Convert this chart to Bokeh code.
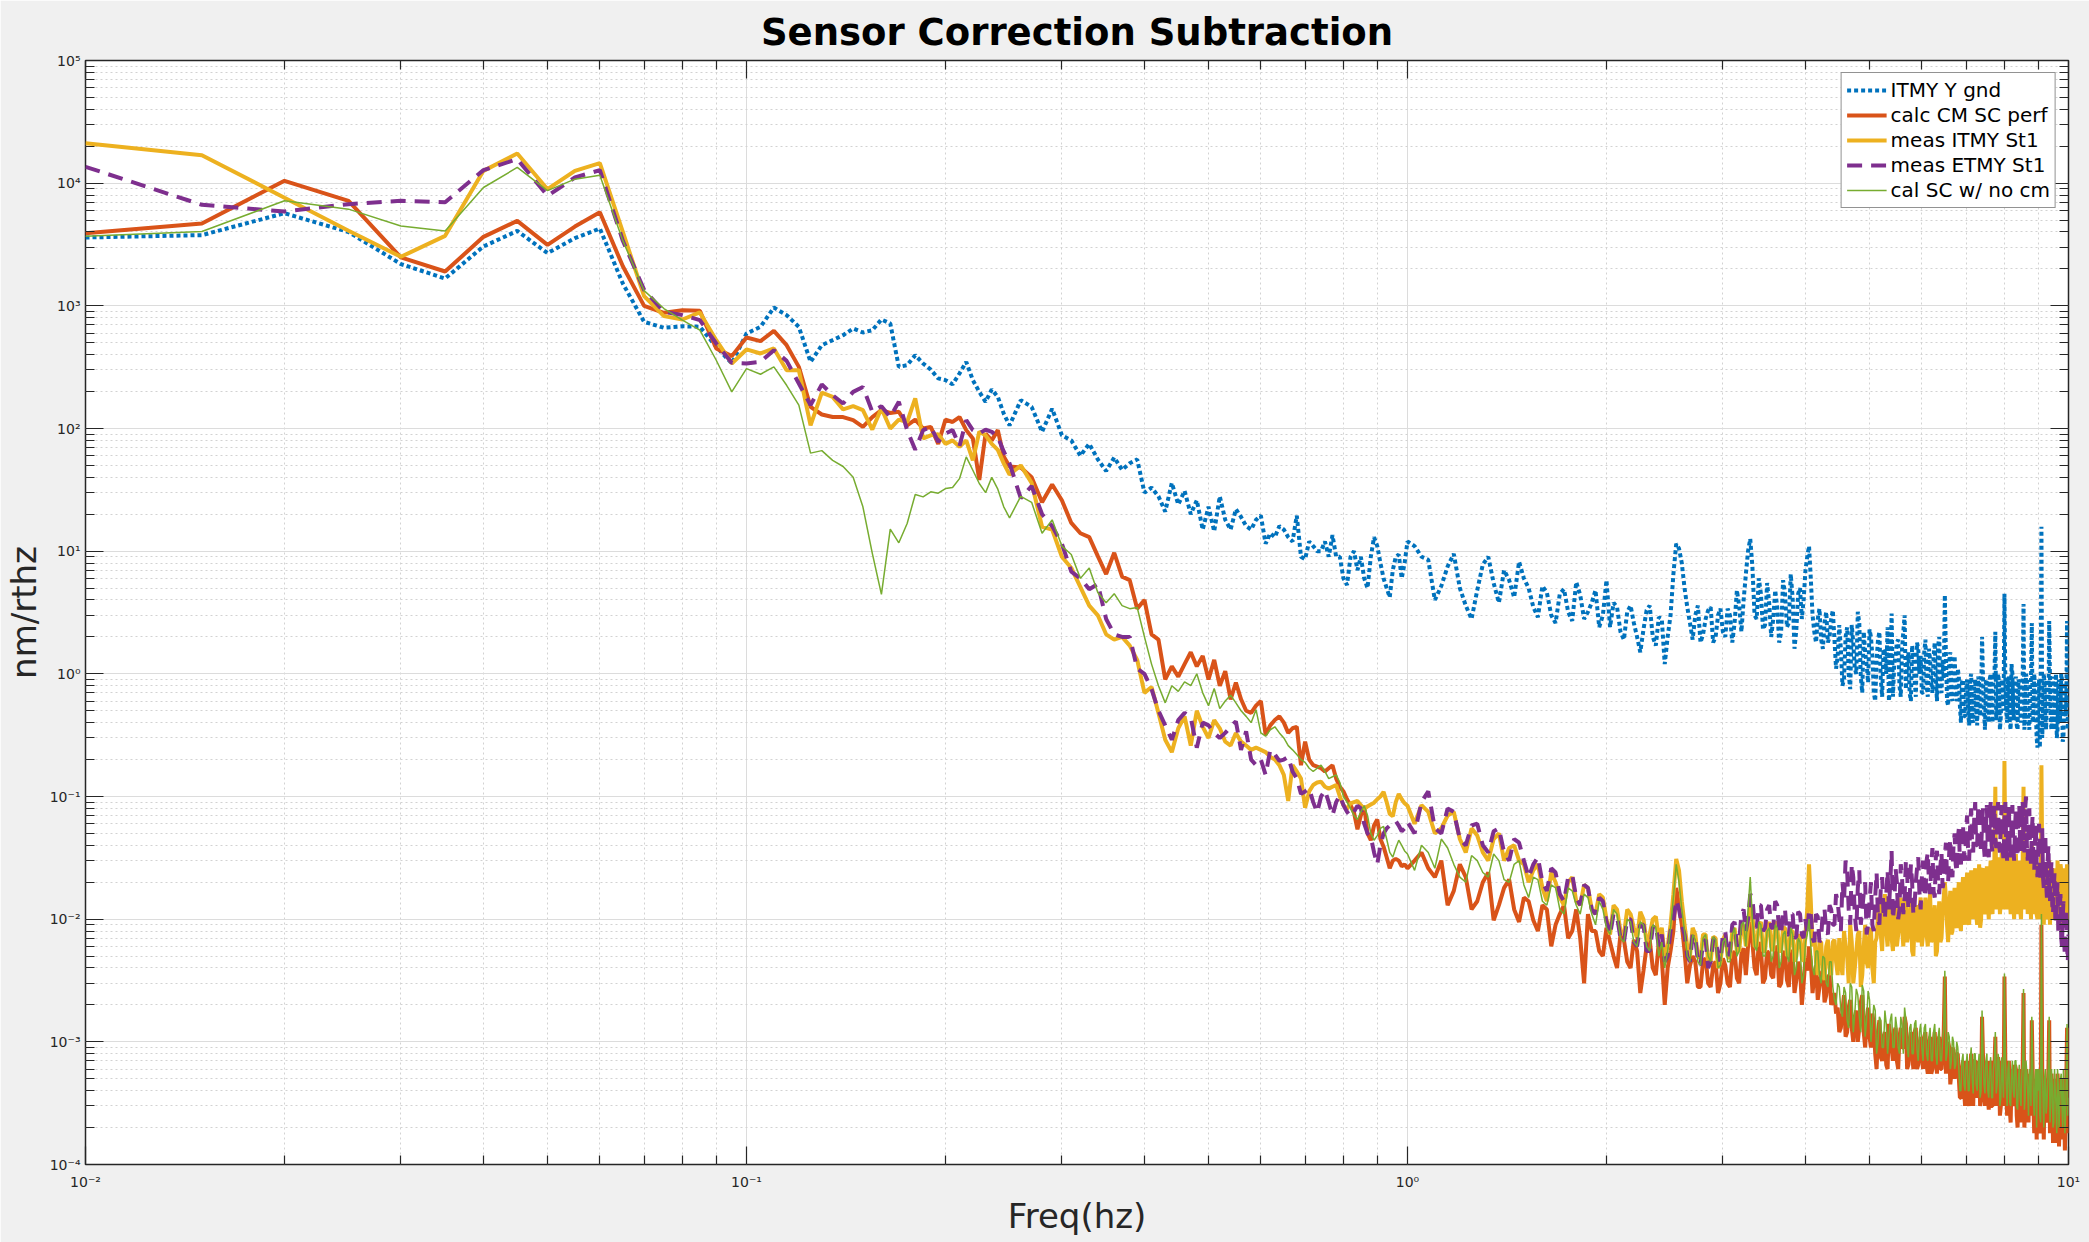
import numpy as np
from bokeh.plotting import figure
from bokeh.models import FixedTicker, LogAxis, CustomJSTickFormatter, Range1d
from bokeh.embed import file_html
from bokeh.resources import INLINE

# frequency bins (Hz): 0.005 Hz steps up to 0.25, then coarser read-off bins
FREQ = np.concatenate([np.arange(2, 51) * 0.005,
                       np.arange(26, 101) * 0.01,
                       np.arange(21, 201) * 0.05])
# extra bins in the dense 1-10 Hz band (1.025, 1.075, ... 9.975)
FREQ_MID = np.arange(41, 400, 2) * 0.025

X_DECADES = [-2, -1, 0, 1]
Y_DECADES = [-4, -3, -2, -1, 0, 1, 2, 3, 4, 5]

# nm/rthz
ITMY_GND = [
    3606, 3770, 5690, 4000, 2190, 1670, 3050, 4080, 2690, 3560, 4270, 1520,
    740, 662, 682, 675, 464, 339, 595, 674, 968, 840, 674, 349,
    478, 525, 576, 653, 606, 633, 774, 718, 318, 328, 396, 339,
    302, 256, 248, 229, 281, 349, 248, 199, 165, 208, 181, 132, 106,
    # 0.26 .. 1.00
    170, 150, 94, 145, 88, 80, 60, 75, 56, 45,
    58, 46, 52, 56, 30, 33, 28, 21, 36, 24,
    31, 20, 26, 15, 23, 14.5, 28, 18, 15, 22,
    19, 16, 15, 18, 19.5, 11.5, 14, 13, 16, 15,
    13, 12, 19.5, 9, 8.6, 12, 11, 10, 10, 12,
    9, 13.5, 9, 9, 6, 5.3, 9, 10, 7, 9,
    6, 5, 9, 13, 11, 8, 6, 5, 4.2, 7,
    9, 9.4, 6, 8, 12,
    # 1.05 .. 10.0
    9.0, 4.0, 7.5, 5.0, 2.8, 7.8, 5.5, 7.0, 4.2, 6.0,
    3.5, 5.2, 3.0, 4.5, 3.2, 5.6, 2.8, 3.8, 2.4, 5.8,
    3.8, 2.2, 3.2, 2.6, 1.5, 3.3, 2.0, 2.9, 1.2, 3.0,
    11.5, 8.0, 3.5, 1.9, 3.6, 2.1, 3.3, 1.8, 3.0, 2.2,
    3.4, 1.8, 4.8, 2.2, 6.5, 12.6, 3.0, 6.0, 2.3, 5.5,
    2.0, 4.8, 1.8, 5.8, 2.4, 6.5, 1.6, 4.5, 2.8, 7.0,
    11.0, 3.0, 1.8, 3.4, 1.6, 3.2, 2.0, 3.3, 1.1, 2.5,
    0.8, 2.0, 1.0, 2.5, 1.1, 3.2, 0.95, 2.2, 1.2, 2.3,
    1.4, 0.6, 1.9, 0.9, 1.6, 1.0, 0.6, 3.1, 1.2, 1.8,
    0.8, 1.6, 3.0, 1.2, 0.7, 1.7, 0.9, 1.8, 1.0, 0.7,
    1.5, 0.8, 1.6, 0.85, 1.4, 0.9, 1.7, 0.75, 1.3, 4.4,
    0.6, 1.3, 0.7, 1.2, 0.8, 1.1, 0.55, 0.85, 0.45, 0.75,
    0.5, 0.9, 0.42, 0.8, 0.5, 0.95, 0.45, 2.0, 0.5, 0.85,
    0.45, 0.9, 0.55, 1.0, 2.2, 0.5, 0.85, 0.45, 0.8, 4.5,
    0.5, 0.85, 0.4, 1.2, 0.5, 0.8, 0.38, 0.9, 0.5, 0.8,
    3.7, 0.5, 0.9, 0.4, 0.8, 2.6, 0.45, 0.75, 0.3, 0.6,
    0.25, 15.8, 0.5, 0.8, 0.35, 0.7, 2.7, 0.4, 0.75, 0.35,
    0.7, 0.3, 0.8, 0.4, 1.0, 0.28, 0.65, 0.45, 2.7, 0.6,
]
ITMY_GND_MID = [
    11.0, 8.5, 5.2, 9.5, 3.6, 4.8, 9.0, 3.8, 5.8, 8.2,
    5.0, 2.9, 4.6, 2.6, 4.9, 2.7, 4.4, 3.2, 4.8, 3.0,
    2.4, 3.5, 1.9, 3.6, 2.0, 2.3, 3.6, 1.7, 2.8, 2.0,
    6.5, 10.5, 5.0, 2.6, 3.0, 1.8, 2.8, 3.5, 2.0, 3.4,
    2.0, 3.0, 2.6, 3.6, 4.0, 10.0, 7.5, 2.8, 4.5, 2.5,
    3.8, 2.8, 3.5, 2.2, 4.5, 2.6, 4.2, 2.3, 5.0, 4.0,
    9.0, 6.0, 2.2, 2.8, 1.9, 2.6, 1.8, 2.8, 1.9, 1.4,
    1.6, 0.9, 2.4, 0.75, 1.8, 1.0, 2.6, 0.7, 1.5, 0.85,
    2.0, 0.7, 1.3, 2.2, 0.65, 1.5, 2.4, 0.8, 0.65, 1.4,
    1.9, 0.65, 2.2, 0.75, 1.5, 0.6, 1.3, 0.65, 1.6, 1.4,
    0.7, 1.9, 0.65, 1.3, 0.7, 1.8, 0.6, 2.0, 0.7, 0.9,
    1.4, 0.55, 1.5, 0.6, 1.4, 0.6, 0.95, 0.4, 0.9, 0.45,
    0.9, 0.38, 1.0, 0.4, 0.9, 0.38, 0.85, 0.6, 0.9, 0.35,
    0.9, 0.4, 1.0, 0.4, 0.9, 0.42, 1.0, 0.35, 0.9, 0.5,
    0.9, 0.4, 0.95, 0.35, 1.0, 0.42, 0.95, 0.35, 0.85, 0.4,
    0.9, 0.35, 1.0, 0.5, 0.35, 0.9, 0.4, 1.0, 0.5, 0.25,
    0.9, 0.6, 0.3, 1.0, 0.45, 0.9, 0.5, 0.9, 0.35, 0.95,
    0.45, 1.0, 0.35, 0.9, 0.5, 0.9, 0.3, 0.85, 0.6, 0.35,
]

CALC_CM_SC = [
    3900, 4690, 10450, 7180, 2480, 1905, 3650, 4930, 3140, 4430, 5800, 2100,
    1000, 877, 922, 910, 449, 389, 552, 515, 625, 478, 318, 150,
    130, 124, 124, 117, 103, 124, 141, 134, 137, 106, 118, 100,
    103, 75, 118, 113, 124, 97, 83, 38, 91, 80, 97, 59, 49,
    48, 40, 25, 35, 26, 17, 14, 13, 9.1, 6.5,
    9.7, 6.2, 5.8, 3.4, 4.0, 2.1, 1.9, 0.9, 1.15, 0.95,
    1.2, 1.5, 1.15, 1.4, 0.9, 1.3, 0.8, 1.05, 0.62, 0.85,
    0.62, 0.5, 0.48, 0.55, 0.6, 0.32, 0.38, 0.42, 0.45, 0.4,
    0.33, 0.36, 0.37, 0.18, 0.28, 0.2, 0.18, 0.175, 0.17, 0.16,
    0.17, 0.18, 0.14, 0.12, 0.11, 0.095, 0.085, 0.074, 0.054, 0.07,
    0.084, 0.05, 0.044, 0.058, 0.065, 0.045, 0.039, 0.032, 0.026, 0.03,
    0.031, 0.03, 0.027, 0.028, 0.026,
    0.035, 0.022, 0.013, 0.028, 0.012, 0.02, 0.0098, 0.018, 0.012, 0.015,
    0.0098, 0.013, 0.006, 0.011, 0.007, 0.012, 0.003, 0.008, 0.0055, 0.0085,
    0.005, 0.0075, 0.0045, 0.0068, 0.0025, 0.006, 0.004, 0.0065, 0.002, 0.0055,
    0.018, 0.009, 0.003, 0.005, 0.0028, 0.0045, 0.003, 0.0042, 0.0025, 0.0048,
    0.003, 0.005, 0.0033, 0.0052, 0.0035, 0.0095, 0.004, 0.0065, 0.003, 0.0055,
    0.0035, 0.006, 0.0028, 0.005, 0.0032, 0.0056, 0.0025, 0.0045, 0.002, 0.0048,
    0.006, 0.0025, 0.0042, 0.0028, 0.0038, 0.0024, 0.0035, 0.0022, 0.0017, 0.0012,
    0.0018, 0.0011, 0.0019, 0.0013, 0.0016, 0.001, 0.0021, 0.0012, 0.0015, 0.0011,
    0.0017, 0.0008, 0.0012, 0.00075, 0.0011, 0.00065, 0.0014, 0.0009, 0.0012, 0.0007,
    0.0011, 0.0009, 0.0016, 0.0006, 0.001, 0.0008, 0.0012, 0.0006, 0.0009, 0.00075,
    0.0011, 0.00065, 0.0009, 0.00055, 0.00095, 0.0007, 0.001, 0.0006, 0.0008, 0.0034,
    0.0007, 0.0009, 0.00055, 0.00085, 0.0006, 0.0008, 0.00035, 0.0006, 0.0004, 0.00055,
    0.00035, 0.0006, 0.00045, 0.0007, 0.0004, 0.00055, 0.0003, 0.0016, 0.0004, 0.0006,
    0.00035, 0.0005, 0.0003, 0.00055, 0.0011, 0.0004, 0.0006, 0.0003, 0.00045, 0.0034,
    0.0004, 0.00055, 0.00028, 0.0005, 0.00035, 0.00065, 0.00025, 0.00045, 0.0003, 0.0005,
    0.0025, 0.0003, 0.0005, 0.00022, 0.0004, 0.0015, 0.0003, 0.00045, 0.00016, 0.00035,
    0.0002, 0.009, 0.0003, 0.00045, 0.00022, 0.0004, 0.0015, 0.00025, 0.0004, 0.00018,
    0.00035, 0.00015, 0.0004, 0.00025, 0.0005, 0.00016, 0.0003, 0.0002, 0.0013, 0.0003,
]
CALC_CM_SC_MID = [
    0.03, 0.026, 0.03, 0.017, 0.022, 0.014, 0.024, 0.013, 0.021, 0.0095,
    0.014, 0.008, 0.012, 0.009, 0.013, 0.008, 0.007, 0.011, 0.008, 0.005,
    0.0065, 0.004, 0.0068, 0.004, 0.0055, 0.0038, 0.0068, 0.0035, 0.0048, 0.004,
    0.008, 0.013, 0.0055, 0.0042, 0.0045, 0.0028, 0.0048, 0.0028, 0.0045, 0.003,
    0.0042, 0.0028, 0.0055, 0.003, 0.0058, 0.006, 0.0065, 0.0035, 0.0058, 0.0033,
    0.0052, 0.0033, 0.0058, 0.003, 0.0055, 0.0028, 0.0052, 0.0032, 0.004, 0.003,
    0.0038, 0.0045, 0.0035, 0.0022, 0.0036, 0.0021, 0.0034, 0.002, 0.0025, 0.0019,
    0.0013, 0.0024, 0.0012, 0.0022, 0.001, 0.0018, 0.0013, 0.0024, 0.0009, 0.0019,
    0.0009, 0.0014, 0.0006, 0.0015, 0.0007, 0.0012, 0.0006, 0.0011, 0.0007, 0.0013,
    0.0006, 0.0013, 0.0009, 0.0014, 0.00065, 0.0012, 0.0006, 0.0013, 0.00065, 0.0011,
    0.0006, 0.0012, 0.00055, 0.0011, 0.0006, 0.0012, 0.00055, 0.0011, 0.0006, 0.0012,
    0.00055, 0.001, 0.00045, 0.0009, 0.0005, 0.0008, 0.0005, 0.00035, 0.0007, 0.0003,
    0.0007, 0.0003, 0.0008, 0.0003, 0.0007, 0.00035, 0.0007, 0.00035, 0.00075, 0.0003,
    0.0007, 0.00028, 0.0007, 0.0003, 0.0006, 0.0003, 0.00075, 0.00025, 0.0007, 0.0003,
    0.0007, 0.00025, 0.0007, 0.00022, 0.0006, 0.0003, 0.0006, 0.0002, 0.0006, 0.00022,
    0.0006, 0.0002, 0.0006, 0.00035, 0.00055, 0.00025, 0.0006, 0.00018, 0.0005, 0.0006,
    0.0005, 0.00018, 0.0006, 0.00016, 0.0005, 0.00025, 0.0006, 0.00018, 0.00055, 0.00015,
    0.0005, 0.00025, 0.00055, 0.00014, 0.0004, 0.00025, 0.0005, 0.00013, 0.0005, 0.00018,
]

MEAS_ITMY = [
    21200, 16900, 7600, 4100, 2510, 3720, 12600, 17450, 8930, 12600, 14550, 4000,
    1200, 824, 774, 883, 525, 339, 441, 409, 449, 299, 299, 106,
    196, 181, 143, 152, 141, 98, 146, 100, 118, 113, 176, 83,
    88, 90, 75, 80, 71, 80, 55, 94, 88, 75, 67, 52, 42,
    50, 36, 15.8, 15, 9, 7.3, 5.1, 3.6, 3.0, 2.1,
    1.9, 2.0, 1.7, 1.3, 0.7, 0.78, 0.48, 0.29, 0.23, 0.36,
    0.45, 0.26, 0.5, 0.37, 0.3, 0.42, 0.36, 0.28, 0.26, 0.33,
    0.28, 0.26, 0.24, 0.25, 0.24, 0.23, 0.21, 0.2, 0.18, 0.15,
    0.092, 0.18, 0.16, 0.14, 0.081, 0.11, 0.124, 0.13, 0.132, 0.12,
    0.116, 0.12, 0.124, 0.1, 0.085, 0.079, 0.088, 0.09, 0.092, 0.085,
    0.079, 0.083, 0.086, 0.089, 0.095, 0.1, 0.109, 0.09, 0.072, 0.069,
    0.09, 0.105, 0.095, 0.088, 0.084,
    0.085, 0.05, 0.07, 0.045, 0.055, 0.035, 0.045, 0.03, 0.04, 0.028,
    0.025, 0.018, 0.024, 0.015, 0.02, 0.014, 0.019, 0.012, 0.016, 0.01,
    0.013, 0.008, 0.012, 0.0085, 0.0115, 0.0065, 0.01, 0.007, 0.005, 0.009,
    0.031, 0.014, 0.006, 0.0085, 0.005, 0.0075, 0.0045, 0.0072, 0.004, 0.0068,
    0.005, 0.008, 0.0055, 0.0085, 0.006, 0.013, 0.006, 0.009, 0.0055, 0.0085,
    0.006, 0.0095, 0.0055, 0.0085, 0.005, 0.008, 0.0045, 0.007, 0.005, 0.0075,
    0.028, 0.006, 0.0045, 0.0065, 0.0035, 0.006, 0.004, 0.0065, 0.0045, 0.007,
    0.0035, 0.006, 0.003, 0.0065, 0.004, 0.0075, 0.0028, 0.006, 0.0045, 0.007,
    0.004, 0.0065, 0.011, 0.0075, 0.013, 0.008, 0.012, 0.007, 0.0105, 0.006,
    0.011, 0.0085, 0.013, 0.0065, 0.01, 0.0055, 0.0095, 0.0075, 0.012, 0.006,
    0.011, 0.0075, 0.0125, 0.0065, 0.01, 0.005, 0.0095, 0.0065, 0.011, 0.02,
    0.009, 0.012, 0.0075, 0.013, 0.009, 0.015, 0.0095, 0.016, 0.011, 0.018,
    0.01, 0.017, 0.0125, 0.02, 0.011, 0.018, 0.0085, 0.025, 0.012, 0.019,
    0.014, 0.022, 0.012, 0.03, 0.12, 0.018, 0.025, 0.014, 0.028, 0.195,
    0.02, 0.03, 0.016, 0.026, 0.013, 0.028, 0.017, 0.024, 0.012, 0.022,
    0.12, 0.018, 0.028, 0.013, 0.022, 0.04, 0.015, 0.026, 0.011, 0.02,
    0.014, 0.18, 0.016, 0.024, 0.011, 0.02, 0.03, 0.013, 0.022, 0.01,
    0.019, 0.012, 0.022, 0.014, 0.025, 0.011, 0.02, 0.013, 0.028, 0.016,
]
MEAS_ITMY_MID = [
    0.06, 0.075, 0.055, 0.075, 0.035, 0.048, 0.03, 0.05, 0.038, 0.03,
    0.02, 0.028, 0.014, 0.02, 0.013, 0.022, 0.013, 0.018, 0.011, 0.015,
    0.0075, 0.012, 0.0075, 0.011, 0.007, 0.01, 0.0075, 0.0105, 0.0085, 0.006,
    0.016, 0.025, 0.009, 0.005, 0.0075, 0.0048, 0.0075, 0.0045, 0.007, 0.0045,
    0.0075, 0.0048, 0.0085, 0.0055, 0.009, 0.0085, 0.011, 0.006, 0.0095, 0.0055,
    0.0095, 0.0055, 0.009, 0.0055, 0.0085, 0.0055, 0.008, 0.005, 0.0075, 0.0045,
    0.012, 0.014, 0.0075, 0.0035, 0.0065, 0.0032, 0.0068, 0.0035, 0.0068, 0.0035,
    0.0045, 0.008, 0.005, 0.009, 0.003, 0.0055, 0.008, 0.0035, 0.009, 0.004,
    0.0085, 0.003, 0.007, 0.015, 0.0055, 0.016, 0.006, 0.014, 0.0055, 0.014,
    0.0075, 0.015, 0.006, 0.016, 0.0075, 0.014, 0.005, 0.013, 0.0065, 0.015,
    0.0075, 0.015, 0.006, 0.016, 0.007, 0.013, 0.0055, 0.014, 0.007, 0.015,
    0.015, 0.0065, 0.017, 0.008, 0.018, 0.0085, 0.02, 0.008, 0.022, 0.009,
    0.024, 0.009, 0.025, 0.01, 0.026, 0.009, 0.028, 0.01, 0.026, 0.011,
    0.027, 0.01, 0.03, 0.011, 0.03, 0.012, 0.032, 0.011, 0.035, 0.012,
    0.034, 0.012, 0.035, 0.011, 0.033, 0.01, 0.034, 0.011, 0.03, 0.01,
    0.03, 0.012, 0.035, 0.011, 0.03, 0.01, 0.032, 0.011, 0.028, 0.01,
    0.028, 0.01, 0.03, 0.009, 0.028, 0.01, 0.027, 0.009, 0.026, 0.014,
    0.026, 0.01, 0.03, 0.009, 0.028, 0.008, 0.026, 0.009, 0.022, 0.01,
]

MEAS_ETMY = [
    13600, 6660, 5880, 6740, 7180, 7000, 12770, 15700, 7890, 11120, 12770, 3390,
    1350, 893, 840, 765, 493, 343, 339, 349, 435, 356, 233, 155,
    229, 187, 160, 199, 218, 137, 152, 124, 165, 97, 67, 97,
    103, 78, 91, 97, 72, 117, 97, 91, 98, 94, 85, 65, 52,
    27, 34, 20, 16, 11.5, 6.8, 6, 4.9, 5.4, 2.8,
    2.1, 2.0, 2.0, 1.1, 1.0, 0.75, 0.5, 0.38, 0.29, 0.42,
    0.48, 0.44, 0.25, 0.4, 0.38, 0.33, 0.3, 0.33, 0.37, 0.41,
    0.24, 0.34, 0.2, 0.18, 0.2, 0.15, 0.24, 0.22, 0.195, 0.2,
    0.21, 0.16, 0.14, 0.105, 0.11, 0.116, 0.09, 0.074, 0.1, 0.112,
    0.09, 0.07, 0.09, 0.102, 0.085, 0.075, 0.069, 0.075, 0.084, 0.08,
    0.06, 0.05, 0.047, 0.035, 0.028, 0.04, 0.05, 0.055, 0.058, 0.06,
    0.063, 0.058, 0.052, 0.055, 0.062,
    0.09, 0.055, 0.08, 0.045, 0.058, 0.04, 0.052, 0.035, 0.045, 0.03,
    0.028, 0.02, 0.026, 0.016, 0.022, 0.015, 0.019, 0.012, 0.015, 0.0095,
    0.011, 0.007, 0.01, 0.0065, 0.009, 0.0055, 0.0085, 0.006, 0.0045, 0.008,
    0.0143, 0.009, 0.005, 0.0075, 0.0045, 0.0065, 0.004, 0.0068, 0.005, 0.0075,
    0.005, 0.009, 0.006, 0.011, 0.008, 0.016, 0.009, 0.013, 0.008, 0.012,
    0.0085, 0.014, 0.008, 0.012, 0.0075, 0.011, 0.007, 0.0115, 0.0075, 0.01,
    0.012, 0.007, 0.011, 0.0065, 0.012, 0.008, 0.013, 0.009, 0.016, 0.01,
    0.02, 0.03, 0.012, 0.028, 0.011, 0.018, 0.009, 0.016, 0.0075, 0.014,
    0.009, 0.015, 0.01, 0.018, 0.011, 0.016, 0.012, 0.036, 0.013, 0.02,
    0.012, 0.022, 0.015, 0.024, 0.014, 0.02, 0.013, 0.026, 0.016, 0.022,
    0.018, 0.03, 0.02, 0.028, 0.017, 0.032, 0.02, 0.027, 0.018, 0.033,
    0.022, 0.035, 0.025, 0.04, 0.028, 0.045, 0.03, 0.05, 0.035, 0.055,
    0.035, 0.06, 0.038, 0.065, 0.04, 0.08, 0.045, 0.06, 0.038, 0.055,
    0.035, 0.06, 0.04, 0.065, 0.045, 0.07, 0.04, 0.06, 0.038, 0.065,
    0.042, 0.058, 0.036, 0.062, 0.04, 0.055, 0.033, 0.06, 0.04, 0.065,
    0.045, 0.08, 0.04, 0.06, 0.035, 0.052, 0.03, 0.045, 0.028, 0.038,
    0.025, 0.042, 0.022, 0.035, 0.02, 0.03, 0.018, 0.022, 0.013, 0.018,
    0.01, 0.014, 0.008, 0.012, 0.007, 0.01, 0.0065, 0.009, 0.006, 0.0075,
]
MEAS_ETMY_MID = [
    0.05, 0.11, 0.05, 0.075, 0.04, 0.06, 0.035, 0.055, 0.03, 0.042,
    0.022, 0.032, 0.017, 0.024, 0.014, 0.023, 0.013, 0.018, 0.011, 0.014,
    0.0075, 0.0105, 0.0065, 0.01, 0.006, 0.009, 0.0055, 0.009, 0.0075, 0.005,
    0.01, 0.012, 0.0075, 0.0045, 0.007, 0.0042, 0.0068, 0.0045, 0.007, 0.0045,
    0.008, 0.0055, 0.0095, 0.0065, 0.012, 0.01, 0.015, 0.0085, 0.013, 0.0085,
    0.013, 0.0085, 0.013, 0.0075, 0.012, 0.0075, 0.011, 0.0072, 0.011, 0.007,
    0.0075, 0.011, 0.0065, 0.0105, 0.007, 0.012, 0.0075, 0.012, 0.009, 0.014,
    0.008, 0.014, 0.025, 0.009, 0.022, 0.008, 0.025, 0.012, 0.02, 0.009,
    0.02, 0.008, 0.024, 0.009, 0.022, 0.01, 0.025, 0.02, 0.01, 0.026,
    0.01, 0.028, 0.011, 0.03, 0.012, 0.028, 0.011, 0.02, 0.032, 0.012,
    0.03, 0.015, 0.035, 0.016, 0.038, 0.015, 0.036, 0.016, 0.035, 0.02,
    0.042, 0.02, 0.045, 0.022, 0.05, 0.024, 0.055, 0.028, 0.06, 0.03,
    0.07, 0.03, 0.08, 0.035, 0.09, 0.04, 0.085, 0.035, 0.08, 0.03,
    0.085, 0.032, 0.09, 0.035, 0.085, 0.038, 0.09, 0.035, 0.085, 0.03,
    0.09, 0.03, 0.085, 0.032, 0.085, 0.03, 0.08, 0.032, 0.085, 0.035,
    0.09, 0.035, 0.1, 0.03, 0.08, 0.028, 0.07, 0.025, 0.06, 0.022,
    0.06, 0.02, 0.055, 0.018, 0.05, 0.015, 0.04, 0.014, 0.03, 0.011,
    0.024, 0.009, 0.02, 0.0075, 0.016, 0.006, 0.014, 0.005, 0.012, 0.0045,
]

CAL_SC_NO_CM = [
    3700, 4040, 7180, 6140, 4470, 4080, 9220, 13430, 8700, 10780, 11620, 3400,
    1330, 950, 765, 633, 360, 199, 308, 277, 318, 225, 155, 63,
    66, 55, 49, 40, 23, 9.6, 4.45, 15.1, 11.7, 16.8, 29, 27.7,
    30.5, 29.7, 32.4, 33, 39, 58.7, 45.7, 35.6, 30, 40, 32, 23, 18.7,
    28, 25, 14, 18, 11, 9.4, 6, 7.3, 4.6, 3.8,
    4.5, 3.6, 3.4, 3.47, 2.0, 1.2, 0.8, 0.58, 0.8, 0.72,
    0.86, 0.8, 1.0, 0.7, 0.55, 0.76, 0.52, 0.6, 0.67, 0.58,
    0.5, 0.45, 0.4, 0.51, 0.33, 0.31, 0.35, 0.37, 0.33, 0.3,
    0.26, 0.24, 0.22, 0.2, 0.19, 0.17, 0.16, 0.17, 0.18, 0.16,
    0.14, 0.145, 0.15, 0.13, 0.1, 0.09, 0.08, 0.07, 0.065, 0.075,
    0.084, 0.07, 0.05, 0.044, 0.048, 0.055, 0.057, 0.045, 0.035, 0.032,
    0.038, 0.044, 0.04, 0.036, 0.034,
    0.04, 0.026, 0.038, 0.022, 0.033, 0.024, 0.034, 0.021, 0.028, 0.019,
    0.022, 0.014, 0.019, 0.012, 0.018, 0.013, 0.016, 0.011, 0.014, 0.0085,
    0.012, 0.007, 0.01, 0.0065, 0.0095, 0.006, 0.009, 0.005, 0.004, 0.0085,
    0.028, 0.012, 0.005, 0.0075, 0.0045, 0.007, 0.005, 0.0072, 0.004, 0.0065,
    0.0045, 0.0075, 0.005, 0.009, 0.006, 0.022, 0.006, 0.0095, 0.005, 0.008,
    0.0045, 0.009, 0.004, 0.0075, 0.005, 0.0085, 0.0035, 0.007, 0.003, 0.0065,
    0.01, 0.004, 0.0055, 0.0035, 0.005, 0.003, 0.0045, 0.0028, 0.002, 0.0028,
    0.0016, 0.0025, 0.0013, 0.0028, 0.0017, 0.0024, 0.0012, 0.0026, 0.0015, 0.0022,
    0.0014, 0.0018, 0.001, 0.0015, 0.0009, 0.0014, 0.0011, 0.0017, 0.0009, 0.0013,
    0.0008, 0.0014, 0.0019, 0.0009, 0.0013, 0.0008, 0.0014, 0.00085, 0.0012, 0.0009,
    0.0013, 0.0008, 0.0011, 0.0007, 0.0012, 0.0008, 0.0011, 0.0007, 0.001, 0.0038,
    0.0008, 0.0011, 0.0007, 0.001, 0.00065, 0.0009, 0.0004, 0.0007, 0.00045, 0.00065,
    0.0004, 0.0007, 0.0005, 0.0008, 0.00045, 0.00065, 0.00035, 0.0018, 0.00045, 0.0007,
    0.0004, 0.0006, 0.00035, 0.0006, 0.0012, 0.00045, 0.0007, 0.00035, 0.0005, 0.0036,
    0.00045, 0.0006, 0.00032, 0.00055, 0.0004, 0.0007, 0.0003, 0.0005, 0.00035, 0.00055,
    0.0027, 0.00035, 0.00055, 0.00025, 0.00045, 0.0016, 0.00035, 0.0005, 0.0002, 0.0004,
    0.00025, 0.011, 0.00035, 0.0005, 0.00026, 0.00045, 0.0016, 0.0003, 0.00045, 0.00022,
    0.0004, 0.00018, 0.00045, 0.0003, 0.00055, 0.0002, 0.00035, 0.00025, 0.0014, 0.00035,
]
CAL_SC_NO_CM_MID = [
    0.025, 0.035, 0.045, 0.028, 0.02, 0.03, 0.022, 0.03, 0.02, 0.03,
    0.015, 0.021, 0.013, 0.018, 0.011, 0.017, 0.011, 0.015, 0.009, 0.012,
    0.0075, 0.011, 0.0065, 0.0095, 0.006, 0.009, 0.0055, 0.0085, 0.0065, 0.0055,
    0.015, 0.02, 0.008, 0.0045, 0.0068, 0.0042, 0.0075, 0.0045, 0.0068, 0.0042,
    0.007, 0.0045, 0.0085, 0.0055, 0.0095, 0.012, 0.01, 0.0055, 0.009, 0.005,
    0.0085, 0.005, 0.0085, 0.0045, 0.008, 0.0045, 0.0075, 0.004, 0.0065, 0.0035,
    0.0075, 0.006, 0.0035, 0.0055, 0.003, 0.0048, 0.0028, 0.0045, 0.0022, 0.003,
    0.0018, 0.0028, 0.0015, 0.003, 0.0012, 0.0027, 0.0016, 0.0029, 0.0011, 0.0026,
    0.001, 0.002, 0.0008, 0.0016, 0.0009, 0.0018, 0.0008, 0.0015, 0.0009, 0.0016,
    0.0009, 0.0016, 0.0008, 0.0015, 0.00075, 0.0014, 0.0008, 0.0015, 0.0007, 0.0014,
    0.0007, 0.0014, 0.0007, 0.0013, 0.0007, 0.0014, 0.00065, 0.0013, 0.0007, 0.0013,
    0.0007, 0.0012, 0.0006, 0.0011, 0.0006, 0.001, 0.0006, 0.0004, 0.0008, 0.0004,
    0.0008, 0.0004, 0.0009, 0.00038, 0.0008, 0.0004, 0.0008, 0.0004, 0.0008, 0.00038,
    0.0008, 0.00035, 0.00075, 0.00035, 0.0007, 0.00038, 0.0008, 0.0003, 0.00075, 0.00035,
    0.00075, 0.0003, 0.0007, 0.0003, 0.0007, 0.00035, 0.0007, 0.00028, 0.00065, 0.0003,
    0.00065, 0.00028, 0.0007, 0.0004, 0.0006, 0.0003, 0.00065, 0.00025, 0.0006, 0.0006,
    0.0006, 0.00022, 0.00065, 0.0002, 0.0006, 0.0003, 0.00065, 0.00022, 0.0006, 0.0002,
    0.0006, 0.0003, 0.0006, 0.0002, 0.0005, 0.0003, 0.0006, 0.00018, 0.0006, 0.00025,
]

SERIES = [
    ("ITMY Y gnd", ITMY_GND, ITMY_GND_MID),
    ("calc CM SC perf", CALC_CM_SC, CALC_CM_SC_MID),
    ("meas ITMY St1", MEAS_ITMY, MEAS_ITMY_MID),
    ("meas ETMY St1", MEAS_ETMY, MEAS_ETMY_MID),
    ("cal SC w/ no cm", CAL_SC_NO_CM, CAL_SC_NO_CM_MID),
]

STYLES = {
    "ITMY Y gnd": dict(line_color="#0072BD", line_width=4, line_dash="4 3"),
    "calc CM SC perf": dict(line_color="#D95319", line_width=4),
    "meas ITMY St1": dict(line_color="#EDB120", line_width=4),
    "meas ETMY St1": dict(line_color="#7E2F8E", line_width=4, line_dash="15 9"),
    "cal SC w/ no cm": dict(line_color="#77AC30", line_width=1.5),
}

FONT = "DejaVu Sans"
INK = "#262626"

SUPER_FMT = CustomJSTickFormatter(code=r"""
const sup = {"-": "\u207b", "0": "\u2070", "1": "\u00b9", "2": "\u00b2", "3": "\u00b3",
             "4": "\u2074", "5": "\u2075", "6": "\u2076", "7": "\u2077", "8": "\u2078", "9": "\u2079"};
const e = Math.round(Math.log10(tick));
return "10" + String(e).split("").map((c) => sup[c]).join("");
""")
BLANK_FMT = CustomJSTickFormatter(code="return '';")


def make_ticker(decades):
    ticks = [10.0 ** d for d in decades]
    minor = [k * 10.0 ** d for d in decades[:-1] for k in range(2, 10)]
    return FixedTicker(ticks=ticks, minor_ticks=minor)


def style_axis(ax):
    ax.axis_line_color = None
    ax.major_tick_in = 18
    ax.major_tick_out = 0
    ax.minor_tick_in = 9
    ax.minor_tick_out = 0
    ax.major_tick_line_color = INK
    ax.minor_tick_line_color = INK
    ax.major_tick_line_width = 1.2
    ax.minor_tick_line_width = 1.2
    ax.major_label_text_font = FONT
    ax.major_label_text_font_size = "14px"
    ax.major_label_text_color = INK


# the page has no body margin: figure fills the 2089x1242 window
p = figure(
    frame_width=1983, frame_height=1104,
    x_axis_type="log", y_axis_type="log",
    x_range=Range1d(0.01, 10), y_range=Range1d(1e-4, 1e5),
    output_backend="svg", toolbar_location=None,
    background_fill_color="white", border_fill_color="#f0f0f0",
    min_border_left=85, min_border_right=21, min_border_top=60, min_border_bottom=78,
    title="Sensor Correction Subtraction",
)

p.title.text_font = FONT
p.title.text_font_size = "37px"
p.title.text_font_style = "bold"
p.title.text_color = "black"
p.title.align = "center"
p.title.standoff = 13

xticker = make_ticker(X_DECADES)
yticker = make_ticker(Y_DECADES)

p.xaxis.ticker = xticker
p.yaxis.ticker = yticker
p.xaxis.formatter = SUPER_FMT
p.yaxis.formatter = SUPER_FMT
style_axis(p.xaxis[0])
style_axis(p.yaxis[0])
p.xaxis.major_label_standoff = 9
p.yaxis.major_label_standoff = 5

p.xaxis.axis_label = "Freq(hz)"
p.yaxis.axis_label = "nm/rthz"
for ax in (p.xaxis[0], p.yaxis[0]):
    ax.axis_label_text_font = FONT
    ax.axis_label_text_font_size = "34px"
    ax.axis_label_text_font_style = "normal"
    ax.axis_label_text_color = INK
p.xaxis.axis_label_standoff = 3
p.yaxis.axis_label_standoff = 3

top = LogAxis(ticker=xticker, formatter=BLANK_FMT)
right = LogAxis(ticker=yticker, formatter=BLANK_FMT)
for ax in (top, right):
    style_axis(ax)
    ax.major_label_text_font_size = "1px"
    ax.major_label_standoff = 0
p.add_layout(top, "above")
p.add_layout(right, "right")

p.xgrid.ticker = xticker
p.ygrid.ticker = yticker
for g in (p.xgrid[0], p.ygrid[0]):
    g.grid_line_color = "#dcdcdc"
    g.grid_line_width = 1
    g.minor_grid_line_color = "#d2d2d2"
    g.minor_grid_line_dash = "2 3"
    g.minor_grid_line_width = 1

p.outline_line_color = INK
p.outline_line_width = 1.5
p.outline_line_alpha = 1

for name, vals, mid in SERIES:
    assert len(vals) == len(FREQ) and len(mid) == len(FREQ_MID), name
    f_all = np.concatenate([FREQ, FREQ_MID])
    v_all = np.concatenate([np.asarray(vals, float), np.asarray(mid, float)])
    order = np.argsort(f_all)
    p.line(f_all[order], v_all[order], legend_label=name, **STYLES[name])

leg = p.legend[0]
leg.location = "top_right"
leg.margin = 12
leg.padding = 5
leg.spacing = 1
leg.label_text_font = FONT
leg.label_text_font_size = "20px"
leg.label_text_color = "black"
leg.label_height = 22
leg.glyph_height = 22
leg.glyph_width = 40
leg.label_standoff = 4
leg.border_line_color = INK
leg.border_line_width = 1
leg.background_fill_color = "white"
leg.background_fill_alpha = 1

open("out.html", "w", encoding="utf-8").write(file_html(p, INLINE))
